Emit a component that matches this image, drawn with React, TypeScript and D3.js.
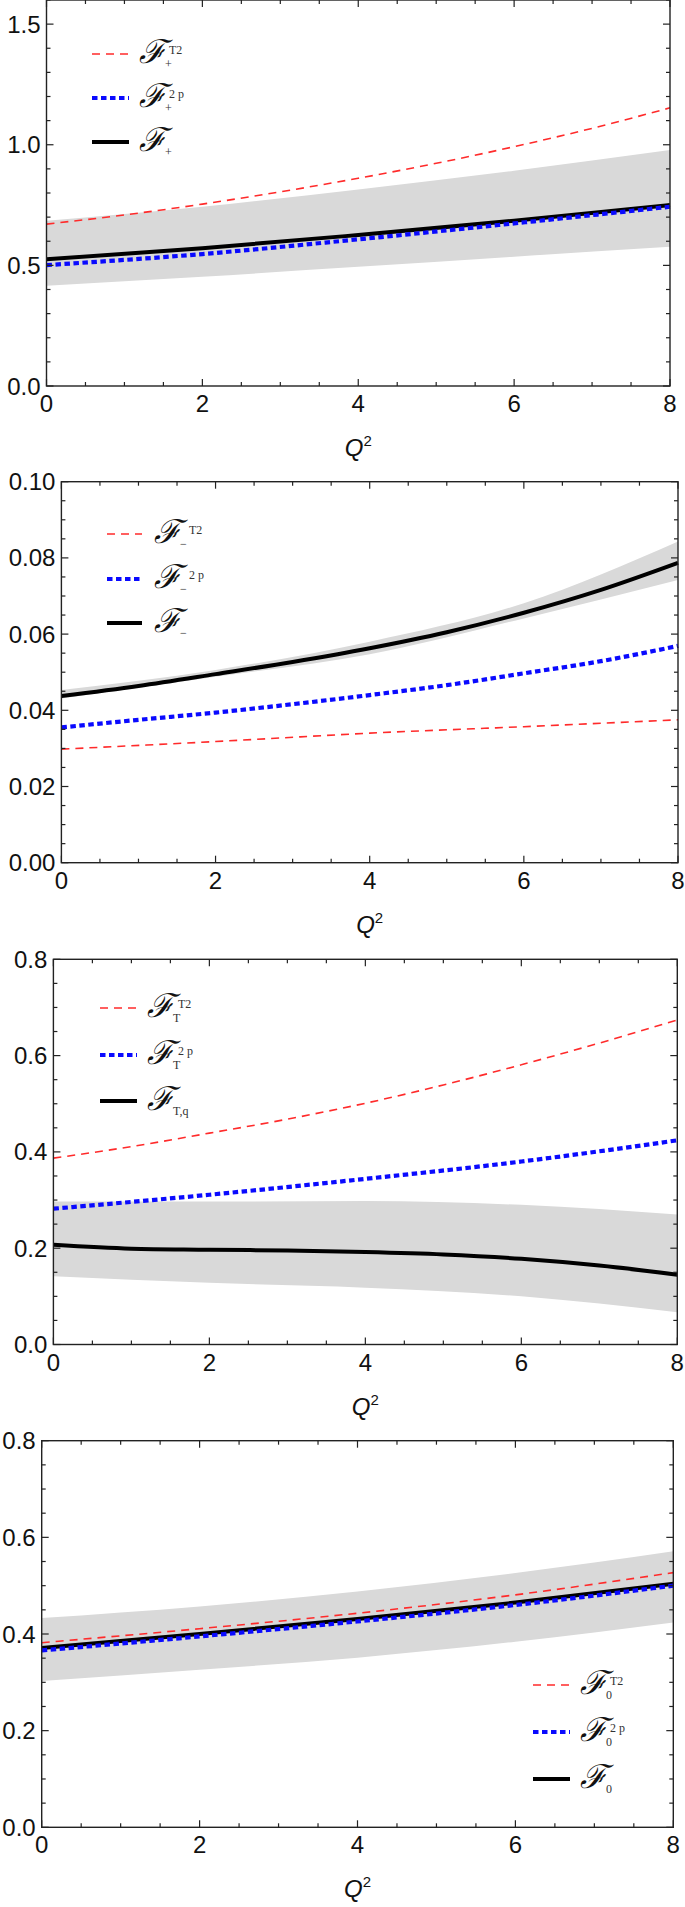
import React from 'react';
import * as d3 from 'd3';

// ---------------- DATA ----------------
const q2Fine = [0, 1, 2, 3, 4, 5, 6, 7, 8];
const q2Coarse = [0, 2, 4, 6, 8];
const xTicks = [0, 2, 4, 6, 8];

// Panel 1: F+
const plusT2 = [0.671, 0.709, 0.754, 0.805, 0.861, 0.923, 0.992, 1.068, 1.153];
const plus2p = [0.501, 0.547, 0.608, 0.674, 0.743];
const plusCentral = [0.525, 0.571, 0.626, 0.685, 0.75];
const plusUpper = [0.685, 0.743, 0.815, 0.892, 0.978];
const plusLower = [0.416, 0.453, 0.494, 0.536, 0.577];

// Panel 2: F-
const minusT2 = [0.0298, 0.0318, 0.034, 0.0357, 0.0375];
const minus2p = [0.0355, 0.0375, 0.0394, 0.0416, 0.044, 0.0466, 0.0497, 0.0529, 0.0569];
const minusCentral = [0.04375, 0.0464, 0.0495, 0.0527, 0.0563, 0.0605, 0.0656, 0.0716, 0.0787];
const minusUpper = [0.0453, 0.0506, 0.058, 0.0681, 0.0843];
const minusLower = [0.0431, 0.0488, 0.0547, 0.0641, 0.0742];

// Panel 3: FT
const tT2 = [0.387, 0.411, 0.439, 0.468, 0.501, 0.539, 0.581, 0.626, 0.674];
const t2p = [0.282, 0.311, 0.344, 0.38, 0.424];
const tCentral = [0.207, 0.199, 0.197, 0.195, 0.192, 0.187, 0.178, 0.164, 0.145];
const tUpper = [0.297, 0.297, 0.298, 0.29, 0.27];
const tLower = [0.142, 0.128, 0.118, 0.1, 0.067];

// Panel 4: F0
const zeroT2 = [0.382, 0.411, 0.443, 0.481, 0.527];
const zero2p = [0.366, 0.395, 0.426, 0.46, 0.5];
const zeroCentral = [0.371, 0.4, 0.431, 0.465, 0.504];
const zeroUpper = [0.433, 0.457, 0.488, 0.526, 0.571];
const zeroLower = [0.303, 0.326, 0.351, 0.384, 0.424];

// Legend labels
const subPlus = ['+', '+', '+'];
const subMinus = ['\u2212', '\u2212', '\u2212'];
const subT = ['T', 'T', 'T,q'];
const subZero = ['0', '0', '0'];
const supLabels = ['T2', '2 p', ''];

// ---------------- LAYOUT ----------------
const W = 685;
const H = 1907;
const FONT = "'Liberation Sans', Arial, Helvetica, sans-serif";
const SERIF = "'Liberation Serif', 'Times New Roman', serif";

const panels = [
  {
    box: { left: 46.5, right: 670, top: 0, bottom: 386 },
    yMax: 1.6, yMajor: 0.5, yMinor: 0.1, fmt: '.1f',
    red: { x: q2Fine, y: plusT2 }, blue: { x: q2Coarse, y: plus2p },
    black: { x: q2Coarse, y: plusCentral },
    band: { x: q2Coarse, lo: plusLower, hi: plusUpper },
    legend: { x0: 92, x1: 129, tx: 139, rows: [54, 98, 142], sub: subPlus, supDx: 30 },
  },
  {
    box: { left: 61.4, right: 678, top: 481.7, bottom: 862.7 },
    yMax: 0.1, yMajor: 0.02, yMinor: 0.005, fmt: '.2f',
    red: { x: q2Coarse, y: minusT2 }, blue: { x: q2Fine, y: minus2p },
    black: { x: q2Fine, y: minusCentral },
    band: { x: q2Coarse, lo: minusLower, hi: minusUpper },
    legend: { x0: 107, x1: 142, tx: 154, rows: [534, 579, 623], sub: subMinus, supDx: 35 },
  },
  {
    box: { left: 53.4, right: 677.3, top: 959.3, bottom: 1344.5 },
    yMax: 0.8, yMajor: 0.2, yMinor: 0.05, fmt: '.1f',
    red: { x: q2Fine, y: tT2 }, blue: { x: q2Coarse, y: t2p },
    black: { x: q2Fine, y: tCentral },
    band: { x: q2Coarse, lo: tLower, hi: tUpper },
    legend: { x0: 100, x1: 137, tx: 147, rows: [1008, 1055, 1101], sub: subT, supDx: 31 },
  },
  {
    box: { left: 41.7, right: 673.3, top: 1440.7, bottom: 1827.3 },
    yMax: 0.8, yMajor: 0.2, yMinor: 0.05, fmt: '.1f',
    red: { x: q2Coarse, y: zeroT2 }, blue: { x: q2Coarse, y: zero2p },
    black: { x: q2Coarse, y: zeroCentral },
    band: { x: q2Coarse, lo: zeroLower, hi: zeroUpper },
    legend: { x0: 533, x1: 570, tx: 580, rows: [1685, 1732, 1779], sub: subZero, supDx: 30 },
  },
];

const RED = '#ff2b2b';
const BLUE = '#0a0aff';
const BAND = '#d9d9d9';

function Panel({ p }: { p: any }) {
  const { box } = p;
  const x = d3.scaleLinear().domain([0, 8]).range([box.left, box.right]);
  const y = d3.scaleLinear().domain([0, p.yMax]).range([box.bottom, box.top]);
  const line = (xs: number[], ys: number[]) =>
    d3.line<number>().x((_, i) => x(xs[i])).y((d) => y(d)).curve(d3.curveMonotoneX)(ys) || '';
  const area = d3
    .area<number>()
    .x((_, i) => x(p.band.x[i]))
    .y0((_, i) => y(p.band.lo[i]))
    .y1((_, i) => y(p.band.hi[i]))
    .curve(d3.curveMonotoneX)(p.band.x) || '';

  const yMajors = d3.range(0, p.yMax + 1e-9, p.yMajor);
  const yMinors = d3.range(0, p.yMax + 1e-9, p.yMinor);
  const xMinors = d3.range(0, 8.0001, 0.5);
  const fmt = d3.format(p.fmt);
  const L = p.legend;
  const cx = (box.left + box.right) / 2;

  return (
    <g>
      <path d={area} fill={BAND} />
      <path d={line(p.red.x, p.red.y)} fill="none" stroke={RED} strokeWidth={1.6} strokeDasharray="8,6" />
      <path d={line(p.black.x, p.black.y)} fill="none" stroke="#000" strokeWidth={4} />
      <path d={line(p.blue.x, p.blue.y)} fill="none" stroke={BLUE} strokeWidth={4.2} strokeDasharray="5.5,3.5" />

      {/* frame */}
      <rect x={box.left} y={box.top} width={box.right - box.left} height={box.bottom - box.top}
        fill="none" stroke="#222" strokeWidth={1.4} />

      {/* x ticks */}
      {xMinors.map((v: number) => {
        const major = Math.abs(v - Math.round(v / 2) * 2) < 1e-6;
        const len = major ? 7 : 4;
        return (
          <g key={'xt' + v}>
            <line x1={x(v)} x2={x(v)} y1={box.bottom} y2={box.bottom - len} stroke="#222" strokeWidth={1.2} />
            <line x1={x(v)} x2={x(v)} y1={box.top} y2={box.top + len} stroke="#222" strokeWidth={1.2} />
          </g>
        );
      })}
      {xTicks.map((v) => (
        <text key={'xl' + v} x={x(v)} y={box.bottom + 26} textAnchor="middle" fontFamily={FONT} fontSize={24} fill="#111">
          {v}
        </text>
      ))}

      {/* y ticks */}
      {yMinors.map((v: number) => {
        const major = yMajors.some((m: number) => Math.abs(m - v) < 1e-9);
        const len = major ? 7 : 4;
        return (
          <g key={'yt' + v}>
            <line x1={box.left} x2={box.left + len} y1={y(v)} y2={y(v)} stroke="#222" strokeWidth={1.2} />
            <line x1={box.right} x2={box.right - len} y1={y(v)} y2={y(v)} stroke="#222" strokeWidth={1.2} />
          </g>
        );
      })}
      {yMajors.map((v: number) => (
        <text key={'yl' + v} x={box.left - 6} y={y(v) + 8.5} textAnchor="end" fontFamily={FONT} fontSize={24} fill="#111">
          {fmt(v)}
        </text>
      ))}

      {/* x axis title */}
      <text x={cx} y={box.bottom + 70} textAnchor="middle" fontFamily={FONT} fontSize={24} fontStyle="italic" fill="#111">
        Q<tspan fontSize={15} fontStyle="normal" dy={-10}>2</tspan>
      </text>

      {/* legend */}
      {L.rows.map((ry: number, i: number) => (
        <g key={'lg' + i}>
          {i === 0 && <line x1={L.x0} x2={L.x1} y1={ry} y2={ry} stroke={RED} strokeWidth={1.6} strokeDasharray="8,6" />}
          {i === 1 && <line x1={L.x0} x2={L.x1} y1={ry} y2={ry} stroke={BLUE} strokeWidth={4.2} strokeDasharray="5.5,3.5" />}
          {i === 2 && <line x1={L.x0} x2={L.x1} y1={ry} y2={ry} stroke="#000" strokeWidth={4} />}
          <text x={L.tx} y={ry + 9} fontFamily="'DejaVu Serif', serif" fontStyle="italic" fontSize={33} fill="#111">
            {'\u2131'}
          </text>
          <text x={L.tx + 26} y={ry + 14} fontFamily={SERIF} fontSize={12} fill="#333">
            {L.sub[i]}
          </text>
          {supLabels[i] && (
            <text x={L.tx + L.supDx} y={ry} fontFamily={SERIF} fontSize={12} fill="#333">
              {supLabels[i]}
            </text>
          )}
        </g>
      ))}
    </g>
  );
}

export default function App() {
  return (
    <svg width={W} height={H} viewBox={`0 0 ${W} ${H}`}
      style={{ position: 'absolute', left: 0, top: 0, background: '#fff' }}>
      <rect x={0} y={0} width={W} height={H} fill="#fff" />
      {panels.map((p, i) => (
        <Panel key={i} p={p} />
      ))}
    </svg>
  );
}
